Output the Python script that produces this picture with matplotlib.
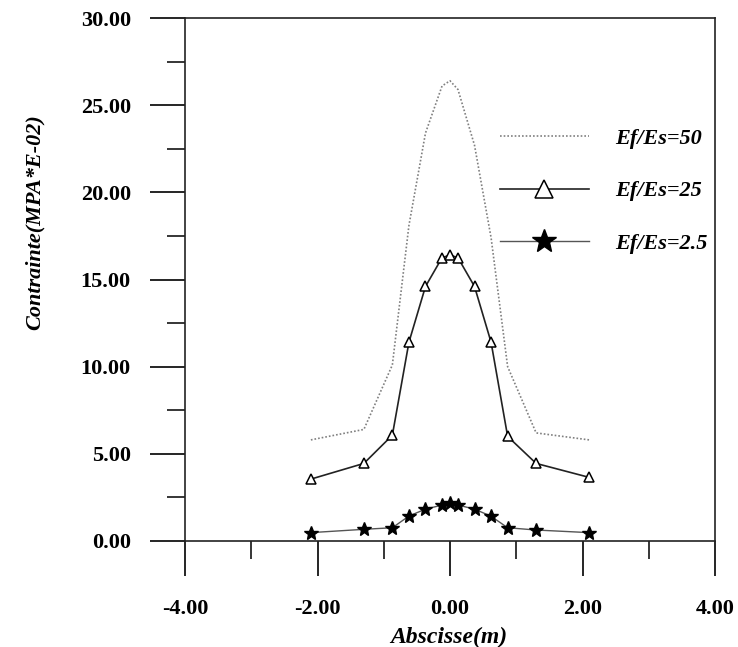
import matplotlib
matplotlib.use("Agg")
import matplotlib.pyplot as plt
from matplotlib.ticker import MultipleLocator, FormatStrFormatter

# abscissa positions (m), same for the three curves
x_pos = [-2.1, -1.3, -0.87, -0.62, -0.37, -0.12, 0.0, 0.12, 0.37, 0.62, 0.87, 1.3, 2.1]

# stress (MPA*E-02)
s_50 = [5.8, 6.4, 10.1, 18.1, 23.4, 26.1, 26.4, 25.9, 22.7, 17.4, 10.0, 6.2, 5.8]
s_25 = [3.55, 4.45, 6.07, 11.4, 14.6, 16.25, 16.4, 16.25, 14.6, 11.4, 6.0, 4.45, 3.65]
s_2_5 = [0.48, 0.67, 0.76, 1.43, 1.83, 2.06, 2.16, 2.06, 1.83, 1.42, 0.76, 0.63, 0.48]

labels = ["Ef/Es=50", "Ef/Es=25", "Ef/Es=2.5"]

plt.rcParams["font.family"] = ["Liberation Serif", "DejaVu Serif"]

fig = plt.figure(figsize=(7.38, 6.47), dpi=100)
ax = fig.add_axes([185 / 738, 1 - 541 / 647, 530 / 738, 523 / 647])

ax.plot(x_pos, s_50, linestyle=(0, (1, 1.2)), color="#808080", linewidth=1.2,
        label=labels[0])
ax.plot(x_pos, s_25, color="#222222", linewidth=1.2, marker="^",
        markersize=7, markerfacecolor="white", markeredgecolor="black",
        markeredgewidth=1.1, label=labels[1])
ax.plot(x_pos, s_2_5, color="#555555", linewidth=1.0, marker="*",
        markersize=10, markerfacecolor="black", markeredgecolor="black",
        label=labels[2])

ax.set_xlim(-4, 4)
ax.set_ylim(0, 30)
ax.xaxis.set_major_locator(MultipleLocator(2))
ax.xaxis.set_minor_locator(MultipleLocator(1))
ax.yaxis.set_major_locator(MultipleLocator(5))
ax.yaxis.set_minor_locator(MultipleLocator(2.5))
ax.xaxis.set_major_formatter(FormatStrFormatter("%.2f"))
ax.yaxis.set_major_formatter(FormatStrFormatter("%.2f"))

ax.tick_params(which="major", direction="out", length=25, width=1.2,
               labelsize=16)
ax.tick_params(which="minor", direction="out", length=13, width=1.1)
ax.tick_params(axis="y", which="major", pad=14)
ax.tick_params(axis="x", which="major", pad=17)
for lab in ax.get_xticklabels() + ax.get_yticklabels():
    lab.set_fontweight("bold")

for sp in ax.spines.values():
    sp.set_linewidth(1.2)
    sp.set_color("#222222")

ax.set_xlabel("Abscisse(m)", fontsize=17, fontweight="bold", style="italic")
ax.set_ylabel("Contrainte(MPA*E-02)", fontsize=16, fontweight="bold",
              style="italic")
ax.xaxis.set_label_coords(0.498, -0.165)
ax.yaxis.set_label_coords(-0.265, 0.61)

leg = ax.legend(loc="upper left", bbox_to_anchor=(500 / 738, 1 - 128 / 647),
                bbox_transform=fig.transFigure, frameon=False,
                prop={"size": 16, "weight": "bold", "style": "italic"},
                handlelength=4.0, handletextpad=1.2, labelspacing=1.45,
                borderpad=0, borderaxespad=0, markerscale=1.8)

plt.savefig("out.png", dpi=100, facecolor="white")
plt.close()
